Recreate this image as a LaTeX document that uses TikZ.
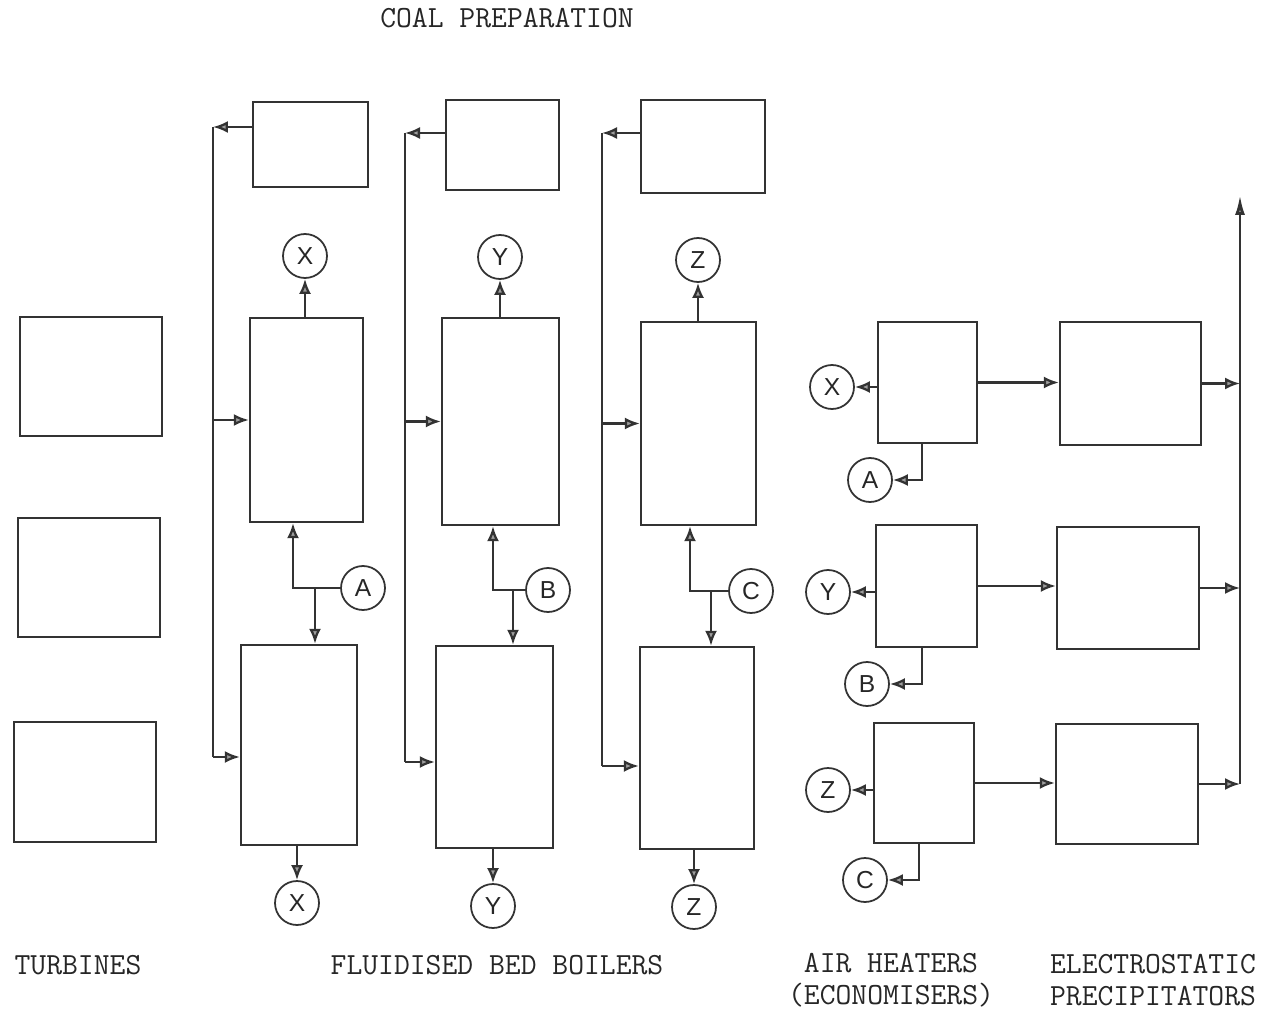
\documentclass[tikz,border=0pt]{standalone}
\usepackage{fontspec}
\setsansfont{Liberation Sans}
\usetikzlibrary{fit,arrows.meta}
\begin{document}
\begin{tikzpicture}[x=0.02cm,y=-0.02cm,
  ink/.style={draw=black!80, line width=1.3pt},
  unit/.style={ink, rectangle, inner sep=0pt},
  tag/.style={ink, circle, line width=1pt, minimum size=0.88cm, inner sep=0pt,
    font=\sffamily\fontsize{14}{14}\selectfont, text=black!85},
  flow/.style={ink, -{Latex[length=0.3cm,width=0.24cm,fill=black!38]}},
  pipe/.style={ink},
  caption/.style={font=\ttfamily\fontsize{17.5}{18.2}\selectfont, align=center, text=black!85}]

\useasboundingbox (0,0) rectangle (1282,1010);

% turbines
\node[unit, fit={(20,317) (162,436)}] (t1) {};
\node[unit, fit={(18,518) (160,637)}] (t2) {};
\node[unit, fit={(14,722) (156,842)}] (t3) {};

% coal preparation
\node[unit, fit={(253,102) (368,187)}] (cp1) {};
\node[unit, fit={(446,100) (559,190)}] (cp2) {};
\node[unit, fit={(641,100) (765,193)}] (cp3) {};

% fluidised bed boilers, upper and lower beds
\node[unit, fit={(250,318) (363,522)}] (ub1) {};
\node[unit, fit={(442,318) (559,525)}] (ub2) {};
\node[unit, fit={(641,322) (756,525)}] (ub3) {};
\node[unit, fit={(241,645) (357,845)}] (lb1) {};
\node[unit, fit={(436,646) (553,848)}] (lb2) {};
\node[unit, fit={(640,647) (754,849)}] (lb3) {};

% air heaters and precipitators
\node[unit, fit={(878,322) (977,443)}] (ah1) {};
\node[unit, fit={(876,525) (977,647)}] (ah2) {};
\node[unit, fit={(874,723) (974,843)}] (ah3) {};
\node[unit, fit={(1060,322) (1201,445)}] (ep1) {};
\node[unit, fit={(1057,527) (1199,649)}] (ep2) {};
\node[unit, fit={(1056,724) (1198,844)}] (ep3) {};

% link tags
\node[tag] (xt) at (305,256) {X};
\node[tag] (yt) at (500,257) {Y};
\node[tag] (zt) at (698,260) {Z};
\node[tag] (xb) at (297,903) {X};
\node[tag] (yb) at (493,906) {Y};
\node[tag] (zb) at (694,907) {Z};
\node[tag] (ca) at (363,588) {A};
\node[tag] (cb) at (548,590) {B};
\node[tag] (cc) at (751,591) {C};
\node[tag] (hx) at (832,387) {X};
\node[tag] (hy) at (828,592) {Y};
\node[tag] (hz) at (828,790) {Z};
\node[tag] (ha) at (870,480) {A};
\node[tag] (hb) at (867,684) {B};
\node[tag] (hc) at (865,880) {C};

% boiler outlets
\draw[flow] (ub1.north -| xt) -- (xt);
\draw[flow] (ub2.north -| yt) -- (yt);
\draw[flow] (ub3.north -| zt) -- (zt);
\draw[flow] (lb1.south -| xb) -- (xb);
\draw[flow] (lb2.south -| yb) -- (yb);
\draw[flow] (lb3.south -| zb) -- (zb);

% coal feed lines
\coordinate (s1t) at (213,127); \coordinate (s1b) at (213,757);
\coordinate (s2t) at (405,133); \coordinate (s2b) at (405,762);
\coordinate (s3t) at (602,133); \coordinate (s3b) at (602,766);
\draw[flow] (cp1.west |- s1t) -- (s1t);
\draw[flow] (cp2.west |- s2t) -- (s2t);
\draw[flow] (cp3.west |- s3t) -- (s3t);
\draw[pipe] (s1t) -- (s1b);
\draw[pipe] (s2t) -- (s2b);
\draw[pipe] (s3t) -- (s3b);
\draw[flow] (s1t |- ub1.west) -- (ub1.west);
\draw[flow] (s2t |- ub2.west) -- (ub2.west);
\draw[flow] (s3t |- ub3.west) -- (ub3.west);
\draw[flow] (s1b) -- (lb1.west |- s1b);
\draw[flow] (s2b) -- (lb2.west |- s2b);
\draw[flow] (s3b) -- (lb3.west |- s3b);

% preheated air to the beds
\coordinate (ja) at (293,588); \coordinate (ka) at (315,588);
\coordinate (jb) at (493,590); \coordinate (kb) at (513,590);
\coordinate (jc) at (690,591); \coordinate (kc) at (711,591);
\draw[flow] (ca.west) -- (ja) -- (ja |- ub1.south);
\draw[flow] (ka) -- (ka |- lb1.north);
\draw[flow] (cb.west) -- (jb) -- (jb |- ub2.south);
\draw[flow] (kb) -- (kb |- lb2.north);
\draw[flow] (cc.west) -- (jc) -- (jc |- ub3.south);
\draw[flow] (kc) -- (kc |- lb3.north);

% air heater connections
\draw[flow] (ah1.west |- hx) -- (hx);
\draw[flow] (ah2.west |- hy) -- (hy);
\draw[flow] (ah3.west |- hz) -- (hz);
\coordinate (da) at (922,480);
\coordinate (db) at (922,684);
\coordinate (dc) at (919,880);
\draw[flow] (ah1.south -| da) -- (da) -- (ha);
\draw[flow] (ah2.south -| db) -- (db) -- (hb);
\draw[flow] (ah3.south -| dc) -- (dc) -- (hc);
\draw[flow] (ah1.east) -- (ep1.west |- ah1.east);
\draw[flow] (ah2.east) -- (ep2.west |- ah2.east);
\draw[flow] (ah3.east) -- (ep3.west |- ah3.east);

% stack
\coordinate (stk) at (1240,195);
\draw[ink, line width=1.6pt, -{Latex[length=0.4cm,width=0.2cm,fill=black!38]}] (ep3.east -| stk) -- (stk);
\draw[flow] (ep1.east) -- (ep1.east -| stk);
\draw[flow] (ep2.east) -- (ep2.east -| stk);
\draw[flow] (ep3.east) -- (ep3.east -| stk);

% captions
\node[caption] (lcoal) at (507,18) {COAL PREPARATION};
\node[caption] (lturb) at (78,965) {TURBINES};
\node[caption] (lboil) at (497,965) {FLUIDISED BED BOILERS};
\node[caption] (lair) at (891,980) {AIR HEATERS\\(ECONOMISERS)};
\node[caption] (lesp) at (1153,980) {ELECTROSTATIC\\PRECIPITATORS};
\end{tikzpicture}
\end{document}
